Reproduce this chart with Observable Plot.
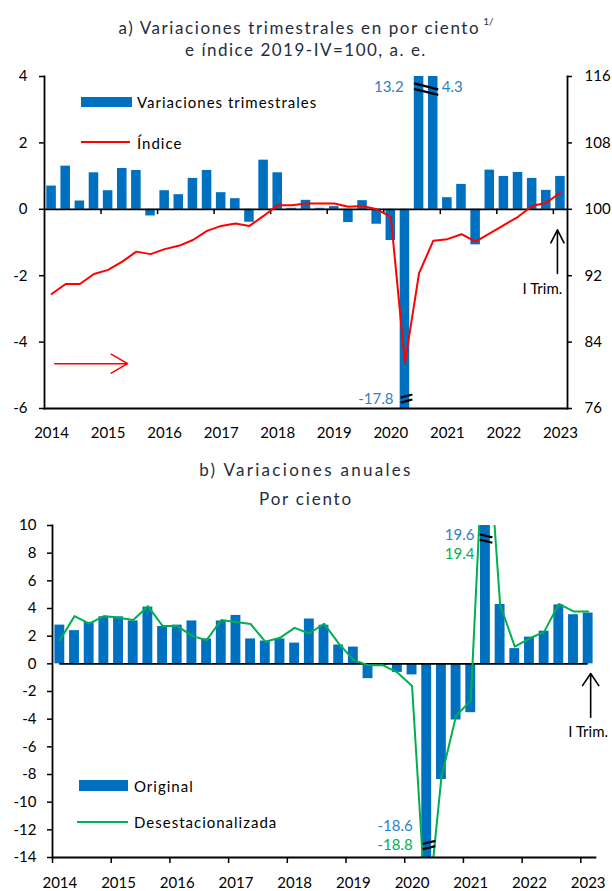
<!DOCTYPE html>
<html><head><meta charset="utf-8">
<script src="https://cdn.jsdelivr.net/npm/d3@7"></script>
<script src="https://cdn.jsdelivr.net/npm/@observablehq/plot@0.6"></script>
<style>
body{margin:0;background:#fff;}
#wrap{position:relative;width:612px;height:891px;font-family:Lato,sans-serif;overflow:hidden;background:#fff}
.t{position:absolute;left:0;width:612px;text-align:center;color:#1F2D40;font-size:17px;line-height:20px;white-space:nowrap;z-index:2}
.t sup{font-size:10px;position:relative;top:-2px;margin-left:3px;letter-spacing:0}
.lg{position:absolute;font-size:15px;color:#000;line-height:18px;white-space:nowrap;z-index:2;letter-spacing:1px}
.sw{position:absolute;z-index:2}
svg{position:absolute;left:0}
</style></head><body><div id="wrap"></div>
<script>
// ---------- data ----------
const startYear = 2014;
const years = [2014, 2015, 2016, 2017, 2018, 2019, 2020, 2021, 2022, 2023];
const quarterLabels = years.flatMap(y => ["I","II","III","IV"].map(q => `${y}-${q}`)).slice(0, 37);
// a) quarterly % change (seasonally adjusted)
const qoqChange = [0.7, 1.3, 0.25, 1.1, 0.56, 1.23, 1.17, -0.2, 0.56, 0.44, 0.93, 1.17,
  0.5, 0.32, -0.39, 1.48, 1.1, 0.03, 0.27, 0.03, 0.08, -0.4, 0.26, -0.45,
  -0.94, -17.8, 13.2, 4.3, 0.35, 0.75, -1.07, 1.18, 0.99, 1.11, 0.93, 0.57, 0.99];
// a) index 2019-IV = 100 (right axis)
const indexSA = [89.8, 91.0, 91.0, 92.2, 92.7, 93.7, 94.9, 94.6, 95.2, 95.6, 96.3, 97.4,
  98.0, 98.3, 98.0, 99.2, 100.5, 100.5, 100.7, 100.7, 100.7, 100.3, 100.4, 100.0,
  99.1, 81.5, 92.3, 96.2, 96.4, 97.0, 96.1, 97.1, 98.1, 99.1, 100.4, 100.8, 102.0];
// b) annual % change, original series
const annualOriginal = [2.8, 2.4, 3.0, 3.4, 3.4, 3.1, 4.1, 2.7, 2.8, 3.1, 1.8, 3.1,
  3.5, 1.8, 1.65, 1.8, 1.5, 3.24, 2.79, 1.36, 1.21, -1.07, -0.1, -0.62,
  -0.8, -18.6, -8.36, -4.06, -3.53, 19.6, 4.29, 1.1, 1.93, 2.36, 4.26, 3.55, 3.67];
// b) annual % change, seasonally adjusted
const annualSA = [1.71, 3.45, 2.9, 3.45, 3.33, 3.17, 4.17, 2.74, 2.74, 2.02, 1.71, 3.17,
  3.02, 2.88, 1.6, 1.88, 2.6, 2.19, 2.9, 1.48, 0.29, -0.1, -0.1, -0.62,
  -1.6, -18.8, -8.2, -3.75, -2.66, 19.4, 4.29, 1.24, 1.83, 2.31, 4.33, 3.79, 3.79];
const yTicksA = [-6, -4, -2, 0, 2, 4];
const yTicksB = [-14, -12, -10, -8, -6, -4, -2, 0, 2, 4, 6, 8, 10];

// ---------- helpers ----------
const qa = quarterLabels.map((q, i) => ({q, t: startYear + i / 4, v: qoqChange[i], idx: indexSA[i]}));
const qb = quarterLabels.map((q, i) => ({q, t: startYear + i / 4, o: annualOriginal[i], s: annualSA[i]}));
const tOf = q => startYear + quarterLabels.indexOf(q) / 4;
const mid = q => tOf(q) + 0.125;
const xDomain = [startYear, startYear + quarterLabels.length / 4];
const yearFmt = d => String(Math.floor(d));
const BLUE = "#0070C0", RED = "#FF0000", GREEN = "#00B050", LBLUE = "#2F80C4";

// break marks: two parallel short segments around (cx, cy), given px/unit factors
function slash(cx, cy, lenPx, angDeg, gapPx, kx, ky) {
  const a = angDeg * Math.PI / 180, hx = Math.cos(a) * lenPx / 2, hy = Math.sin(a) * lenPx / 2;
  return [-gapPx / 2, gapPx / 2].map(o => ({
    x1: cx - hx / kx, x2: cx + hx / kx,
    y1: cy - (o - hy) / ky, y2: cy - (o + hy) / ky
  }));
}

const wrap = document.getElementById("wrap");
function add(html) { wrap.insertAdjacentHTML("beforeend", html); }

// ---------- panel a ----------
const A = {w: 612, h: 450, mt: 76, mb: 42, ml: 44, mr: 45};
const kxA = (A.w - A.ml - A.mr) / (xDomain[1] - xDomain[0]);
const kyA = (A.h - A.mt - A.mb) / 10;
const plotA = Plot.plot({
  width: A.w, height: A.h, marginTop: A.mt, marginBottom: A.mb, marginLeft: A.ml, marginRight: A.mr,
  style: {fontFamily: "Lato, sans-serif", fontSize: "15px", color: "#000", background: "transparent", overflow: "visible"},
  x: {domain: xDomain, axis: null},
  y: {domain: [-6, 4], axis: null},
  marks: [
    Plot.rect(qa, {x1: "t", x2: d => d.t + 0.25, y1: 0, y2: "v", fill: BLUE, insetLeft: 2.3, insetRight: 2.3, clip: true}),
    Plot.ruleY([0], {stroke: "#000", strokeWidth: 1.8}),
    Plot.ruleX(years.slice(1), {x: d => d, y1: 0, y2: -0.16, stroke: "#000", strokeWidth: 1.5}),
    Plot.lineY(qa, {x: d => d.t + 0.125, y: d => (d.idx - 100) / 4, stroke: RED, strokeWidth: 2}),
    Plot.frame({anchor: "left", stroke: "#000", strokeWidth: 1.8}),
    Plot.frame({anchor: "right", stroke: "#000", strokeWidth: 1.8}),
    Plot.frame({anchor: "bottom", stroke: "#000", strokeWidth: 1.8}),
    Plot.axisY({anchor: "left", ticks: yTicksA, tickSize: 5, tickPadding: 12, tickFormat: d => String(d), strokeWidth: 1.5}),
    Plot.axisY({anchor: "right", ticks: yTicksA, tickSize: 4, tickPadding: 13, tickFormat: d => String(100 + 4 * d), strokeWidth: 1.5}),
    Plot.axisX({anchor: "bottom", ticks: years.map(y => y + 0.125), tickSize: 0, tickPadding: 19, tickFormat: yearFmt}),
    // break labels and marks
    Plot.text([{x: mid("2020-III"), y: 3.67, t: "13.2"}], {x: "x", y: "y", text: "t", textAnchor: "end", dx: -15.5, fill: LBLUE, fontSize: 15}),
    Plot.text([{x: mid("2020-IV"), y: 3.67, t: "4.3"}], {x: "x", y: "y", text: "t", textAnchor: "start", dx: 8.5, fill: LBLUE, fontSize: 15}),
    Plot.text([{x: mid("2020-II"), y: -5.73, t: "-17.8"}], {x: "x", y: "y", text: "t", textAnchor: "end", dx: -11.5, fill: LBLUE, fontSize: 15}),
    Plot.link(slash(tOf("2020-IV"), 3.62, 25, 14, 5.5, kxA, kyA), {x1: "x1", y1: "y1", x2: "x2", y2: "y2", stroke: "#000", strokeWidth: 2.2}),
    Plot.link(slash(mid("2020-II") + 1.6 / kxA, -5.7, 12, -15, 5, kxA, kyA), {x1: "x1", y1: "y1", x2: "x2", y2: "y2", stroke: "#000", strokeWidth: 2.2}),
    // right-axis pointer and I Trim. arrow
    Plot.arrow([{x1: 2014.18, x2: 2015.47, y: -4.65}], {x1: "x1", x2: "x2", y1: "y", y2: "y", stroke: RED, strokeWidth: 1.5, headLength: 19, headAngle: 60}),
    Plot.arrow([{x: mid("2023-I"), y1: -1.93, y2: -0.62}], {x1: "x", x2: "x", y1: "y1", y2: "y2", dx: -3, stroke: "#000", strokeWidth: 1.6, headLength: 18, headAngle: 54}),
    Plot.text([{x: mid("2023-I"), y: -2.42, t: "I Trim."}], {x: "x", y: "y", text: "t", dx: -18, fill: "#000", fontSize: 15})
  ]
});
plotA.style.top = "0px";
wrap.appendChild(plotA);

// ---------- panel b ----------
const B = {w: 612, h: 441, mt: 75, mb: 34, ml: 52, mr: 17};
const kxB = (B.w - B.ml - B.mr) / (xDomain[1] - xDomain[0]);
const kyB = (B.h - B.mt - B.mb) / 24;
const plotB = Plot.plot({
  width: B.w, height: B.h, marginTop: B.mt, marginBottom: B.mb, marginLeft: B.ml, marginRight: B.mr,
  style: {fontFamily: "Lato, sans-serif", fontSize: "15px", color: "#000", background: "transparent", overflow: "visible"},
  x: {domain: xDomain, axis: null},
  y: {domain: [-14, 10], axis: null},
  marks: [
    Plot.rect(qb, {x1: "t", x2: d => d.t + 0.25, y1: 0, y2: "o", fill: BLUE, insetLeft: 2.4, insetRight: 2.4, clip: true}),
    Plot.ruleY([0], {x1: mid(quarterLabels[0]), x2: mid(quarterLabels[36]), stroke: "#000", strokeWidth: 1.8}),
    Plot.lineY(qb, {x: d => d.t + 0.125, y: "s", stroke: GREEN, strokeWidth: 2, clip: true}),
    Plot.frame({anchor: "left", stroke: "#000", strokeWidth: 1.8}),
    Plot.frame({anchor: "bottom", stroke: "#000", strokeWidth: 1.8}),
    Plot.axisY({anchor: "left", ticks: yTicksB, tickSize: 5, tickPadding: 11, tickFormat: d => String(d), strokeWidth: 1.5}),
    Plot.axisX({anchor: "bottom", ticks: years, tickSize: 6, tickFormat: () => "", strokeWidth: 1.5}),
    Plot.axisX({anchor: "bottom", ticks: years.map(y => y + 0.125), tickSize: 0, tickPadding: 20, tickFormat: yearFmt}),
    Plot.text([{x: mid("2021-II"), y: 9.28, t: "19.6"}], {x: "x", y: "y", text: "t", textAnchor: "end", dx: -11, fill: LBLUE, fontSize: 15}),
    Plot.text([{x: mid("2021-II"), y: 7.9, t: "19.4"}], {x: "x", y: "y", text: "t", textAnchor: "end", dx: -11, fill: GREEN, fontSize: 15}),
    Plot.text([{x: mid("2020-II"), y: -11.76, t: "-18.6"}], {x: "x", y: "y", text: "t", textAnchor: "end", dx: -14, fill: LBLUE, fontSize: 15}),
    Plot.text([{x: mid("2020-II"), y: -13.13, t: "-18.8"}], {x: "x", y: "y", text: "t", textAnchor: "end", dx: -14, fill: GREEN, fontSize: 15}),
    Plot.link(slash(mid("2021-II") + 0.6 / kxB, 9.06, 13, 14, 5.3, kxB, kyB), {x1: "x1", y1: "y1", x2: "x2", y2: "y2", stroke: "#000", strokeWidth: 2.2}),
    Plot.link(slash(mid("2020-II") + 2.3 / kxB, -13.1, 13, -14, 5.3, kxB, kyB), {x1: "x1", y1: "y1", x2: "x2", y2: "y2", stroke: "#000", strokeWidth: 2.2}),
    Plot.arrow([{x: mid("2023-I"), y1: -3.86, y2: -0.7}], {x1: "x", x2: "x", y1: "y1", y2: "y2", dx: 2.5, stroke: "#000", strokeWidth: 1.6, headLength: 16, headAngle: 68}),
    Plot.text([{x: mid("2023-I"), y: -4.97, t: "I Trim."}], {x: "x", y: "y", text: "t", fill: "#000", fontSize: 15})
  ]
});
plotB.style.top = "450px";
wrap.appendChild(plotB);

// ---------- titles ----------
add(`<div class="t" style="top:12.5px;letter-spacing:1.6px">a) Variaciones trimestrales en por ciento<sup>1/</sup></div>`);
add(`<div class="t" style="top:40px;letter-spacing:1.5px">e índice 2019-IV=100, a. e.</div>`);
add(`<div class="t" style="top:460px;letter-spacing:2.3px">b) Variaciones anuales</div>`);
add(`<div class="t" style="top:488.5px;letter-spacing:1.8px">Por ciento</div>`);

// ---------- legends ----------
add(`<div class="sw" style="left:81px;top:97px;width:51px;height:10px;background:${BLUE}"></div>`);
add(`<div class="lg" style="left:137px;top:92.6px">Variaciones trimestrales</div>`);
add(`<div class="sw" style="left:81px;top:141px;width:49px;height:2px;background:${RED}"></div>`);
add(`<div class="lg" style="left:137px;top:133.6px">Índice</div>`);
add(`<div class="sw" style="left:79px;top:780px;width:49px;height:11px;background:${BLUE}"></div>`);
add(`<div class="lg" style="left:134px;top:776.6px">Original</div>`);
add(`<div class="sw" style="left:77px;top:821px;width:51px;height:2px;background:${GREEN}"></div>`);
add(`<div class="lg" style="left:134px;top:812.6px">Desestacionalizada</div>`);
</script></body></html>
